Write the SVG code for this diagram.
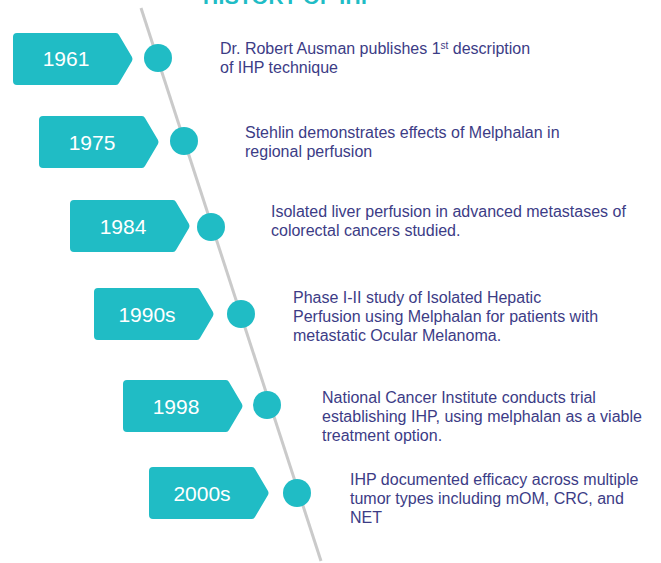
<svg xmlns="http://www.w3.org/2000/svg" width="661" height="563" viewBox="0 0 661 563">
<defs>
<style>
.tag{fill:#20bcc5;}
.dot{fill:#20bcc5;}
.yr{font-family:"Liberation Sans",Arial,sans-serif;font-size:21px;fill:#ffffff;text-anchor:middle;}
.desc{font-family:"Liberation Sans",Arial,sans-serif;font-size:16px;fill:#3c3c86;}
.title{font-family:"Liberation Sans",Arial,sans-serif;font-size:21px;font-weight:bold;fill:#20bcc5;}
</style>
<path id="tagshape" d="M4,0 H103 Q105,0 106,2 L119,24 Q120,26 119,28 L106,50 Q105,52 103,52 H4 Q0,52 0,48 V4 Q0,0 4,0 Z"/>
</defs>
<rect width="661" height="563" fill="#ffffff"/>
<text class="title" x="203" y="4" textLength="172">HISTORY OF IHP</text>
<g id="connectors">
<line x1="141" y1="8" x2="321" y2="561" stroke="#cacaca" stroke-width="3"/>
</g>
<g id="n1961">
<use href="#tagshape" class="tag" x="13" y="33"/>
<text class="yr" x="66" y="66">1961</text>
<circle class="dot" cx="158" cy="58" r="14"/>
<text class="desc" x="220" y="54">Dr. Robert Ausman publishes 1<tspan font-size="10" dy="-5">st</tspan><tspan dy="5"> description</tspan></text>
<text class="desc" x="220" y="73">of IHP technique</text>
</g>
<g id="n1975">
<use href="#tagshape" class="tag" x="39" y="116"/>
<text class="yr" x="92" y="150">1975</text>
<circle class="dot" cx="184" cy="141" r="14"/>
<text class="desc" x="245" y="138">Stehlin demonstrates effects of Melphalan in</text>
<text class="desc" x="245" y="157">regional perfusion</text>
</g>
<g id="n1984">
<use href="#tagshape" class="tag" x="70" y="200"/>
<text class="yr" x="123" y="234">1984</text>
<circle class="dot" cx="211" cy="227" r="14"/>
<text class="desc" x="271" y="217">Isolated liver perfusion in advanced metastases of</text>
<text class="desc" x="271" y="236">colorectal cancers studied.</text>
</g>
<g id="n1990s">
<use href="#tagshape" class="tag" x="94" y="288"/>
<text class="yr" x="147" y="322">1990s</text>
<circle class="dot" cx="241" cy="314" r="14"/>
<text class="desc" x="293" y="303">Phase I-II study of Isolated Hepatic</text>
<text class="desc" x="293" y="322">Perfusion using Melphalan for patients with</text>
<text class="desc" x="293" y="341">metastatic Ocular Melanoma.</text>
</g>
<g id="n1998">
<use href="#tagshape" class="tag" x="123" y="380"/>
<text class="yr" x="176" y="414">1998</text>
<circle class="dot" cx="267" cy="405" r="14"/>
<text class="desc" x="322" y="403">National Cancer Institute conducts trial</text>
<text class="desc" x="322" y="422">establishing IHP, using melphalan as a viable</text>
<text class="desc" x="322" y="441">treatment option.</text>
</g>
<g id="n2000s">
<use href="#tagshape" class="tag" x="149" y="467"/>
<text class="yr" x="202" y="501">2000s</text>
<circle class="dot" cx="297" cy="493" r="14"/>
<text class="desc" x="350" y="485">IHP documented efficacy across multiple</text>
<text class="desc" x="350" y="504">tumor types including mOM, CRC, and</text>
<text class="desc" x="350" y="523">NET</text>
</g>
</svg>
